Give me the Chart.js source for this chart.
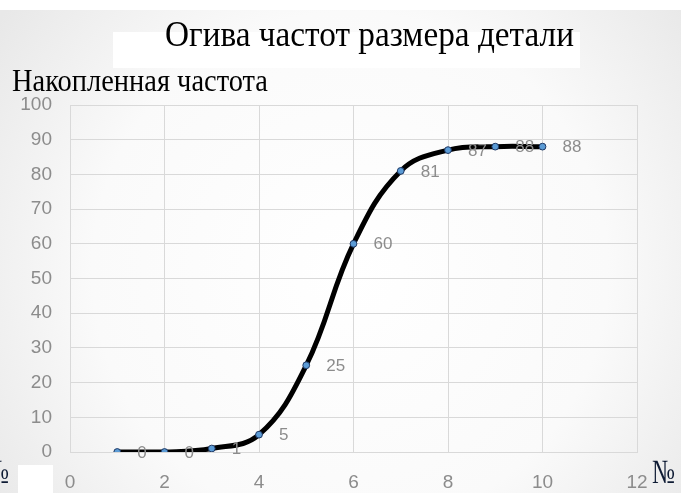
<!DOCTYPE html>
<html>
<head>
<meta charset="utf-8">
<script src="https://cdn.jsdelivr.net/npm/chart.js@4/dist/chart.umd.min.js"></script>
<style>
  html, body { margin: 0; padding: 0; background: #ffffff; }
  #wrap { width: 681px; height: 493px; }
</style>
</head>
<body>
<div id="wrap"><canvas id="ogive" width="681" height="493"></canvas></div>
<script>
// Part size class number and cumulative frequency
const classNo = [1, 2, 3, 4, 5, 6, 7, 8, 9, 10];
const cumFreq = [0, 0, 1, 5, 25, 60, 81, 87, 88, 88];

// Axis ranges and tick steps
const xRange = [0, 12];
const xStep = 2;
const yRange = [0, 100];
const yStep = 10;

// Texts
const chartTitle = 'Огива частот размера детали';
const yTitle = 'Накопленная частота';
const xTitle = '№';

const points = classNo.map((x, i) => ({ x: x, y: cumFreq[i] }));

const gridColor = '#d9d9d9';
const tickColor = '#8c8c8c';
const tickFont = { family: "'Liberation Sans Narrow', 'Arial Narrow', 'Liberation Sans', sans-serif", size: 19 };

// Draws a string squeezed horizontally to a given width
function squeezedText(ctx, text, font, x, y, width, color) {
  ctx.save();
  ctx.font = font;
  const w = ctx.measureText(text).width;
  const sx = width / w;
  ctx.translate(x, y);
  ctx.scale(sx, 1);
  ctx.fillStyle = color;
  ctx.textAlign = 'left';
  ctx.textBaseline = 'alphabetic';
  ctx.fillText(text, 0, 0);
  ctx.restore();
}

const backdrop = {
  id: 'backdrop',
  beforeDraw(chart) {
    const ctx = chart.ctx;
    const W = chart.width, H = chart.height;
    ctx.save();
    const g = ctx.createRadialGradient(350, 270, 0, 350, 270, 430);
    g.addColorStop(0, '#ffffff');
    g.addColorStop(0.6, '#fafafa');
    g.addColorStop(1, '#e8e8e8');
    ctx.fillStyle = g;
    ctx.fillRect(0, 0, W, H);
    ctx.fillStyle = '#ffffff';
    ctx.fillRect(0, 0, W, 10);
    ctx.fillRect(113, 32, 467, 36);
    ctx.fillRect(18, 465, 35, 28);
    ctx.restore();
  }
};

const texts = {
  id: 'texts',
  afterDraw(chart) {
    const ctx = chart.ctx;
    squeezedText(ctx, chartTitle, "35px 'Liberation Serif', 'Times New Roman', serif", 165, 46, 409, '#000000');
    squeezedText(ctx, yTitle, "32px 'Liberation Serif', 'Times New Roman', serif", 12, 91, 256, '#000000');
    squeezedText(ctx, xTitle, "34px 'Liberation Serif', 'Times New Roman', serif", 652, 483, 23, '#0d1a33');
    squeezedText(ctx, xTitle, "34px 'Liberation Serif', 'Times New Roman', serif", -14, 483, 23, '#0d1a33');
  }
};

const valueLabels = {
  id: 'valueLabels',
  afterDatasetsDraw(chart) {
    const ctx = chart.ctx;
    const meta = chart.getDatasetMeta(0);
    ctx.save();
    ctx.font = "17px 'Liberation Sans', Arial, sans-serif";
    ctx.fillStyle = tickColor;
    ctx.textAlign = 'left';
    ctx.textBaseline = 'middle';
    meta.data.forEach((pt, i) => {
      ctx.fillText(String(cumFreq[i]), pt.x + 20, pt.y + 1);
    });
    ctx.restore();
  }
};

new Chart(document.getElementById('ogive'), {
  type: 'line',
  data: {
    datasets: [{
      data: points,
      borderColor: '#000000',
      borderWidth: 5,
      tension: 0.4,
      fill: false,
      pointRadius: 3.4,
      pointBackgroundColor: '#5b9bd5',
      pointBorderColor: '#1f3864',
      pointBorderWidth: 1
    }]
  },
  options: {
    responsive: false,
    devicePixelRatio: 1,
    animation: false,
    events: [],
    layout: { padding: { top: 105, right: 44, bottom: 0, left: 0 } },
    plugins: {
      legend: { display: false },
      title: { display: false },
      tooltip: { enabled: false }
    },
    scales: {
      x: {
        type: 'linear',
        min: xRange[0],
        max: xRange[1],
        afterFit(scale) { scale.height = 41; },
        ticks: { stepSize: xStep, color: tickColor, font: tickFont, padding: 19, maxRotation: 0 },
        grid: { color: gridColor, lineWidth: 1, drawTicks: false },
        border: { color: gridColor, width: 1 }
      },
      y: {
        type: 'linear',
        min: yRange[0],
        max: yRange[1],
        afterFit(scale) { scale.width = 70; },
        ticks: { stepSize: yStep, color: tickColor, font: tickFont, padding: 18 },
        grid: { color: gridColor, lineWidth: 1, drawTicks: false },
        border: { color: gridColor, width: 1 }
      }
    }
  },
  plugins: [backdrop, texts, valueLabels]
});
</script>
</body>
</html>
